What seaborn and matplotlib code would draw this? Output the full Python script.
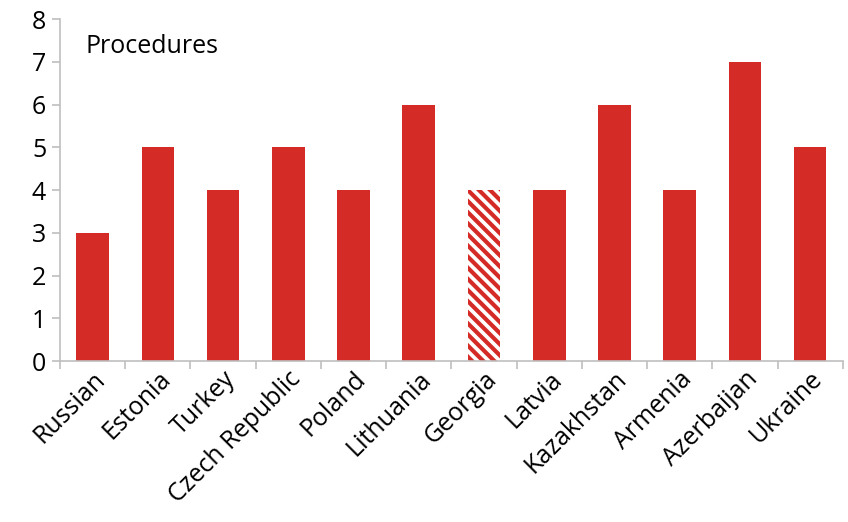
import matplotlib
matplotlib.use("Agg")
import matplotlib.pyplot as plt
import seaborn as sns
import pandas as pd
import numpy as np
from matplotlib.ticker import FixedLocator

countries = ["Russian", "Estonia", "Turkey", "Czech Republic", "Poland", "Lithuania",
             "Georgia", "Latvia", "Kazakhstan", "Armenia", "Azerbaijan", "Ukraine"]
procedures = [3, 5, 4, 5, 4, 6, 4, 4, 6, 4, 7, 5]
highlight = "Georgia"

red = "#D52B27"

sns.set_theme(style="white")
plt.rcParams['font.family'] = ['Open Sans', 'DejaVu Sans']
plt.rcParams['hatch.linewidth'] = 3.0
plt.rcParams['hatch.color'] = red

df = pd.DataFrame({"country": countries, "value": procedures})

fig = plt.figure(figsize=(8.48, 5.22), dpi=100)
ax = fig.add_axes([0.0708, 0.3084, 0.923, 0.6552])

sns.barplot(data=df, x="country", y="value", color=red, width=0.5, ax=ax,
            saturation=1, order=countries)

for patch, c in zip(ax.patches, countries):
    patch.set_edgecolor("none")
    if c == highlight:
        patch.set_facecolor("white")
        patch.set_hatch("\\\\\\")
        patch.set_edgecolor(red)
        patch.set_linewidth(0)

ax.set_xlim(-0.5, len(countries) - 0.5)
ax.set_ylim(0, 8)
ax.set_yticks(range(0, 9))
ax.set_xlabel("")
ax.set_ylabel("")

for s in ["top", "right"]:
    ax.spines[s].set_visible(False)
for s in ["left", "bottom"]:
    ax.spines[s].set_color("#BFBFBF")
    ax.spines[s].set_linewidth(1.2)

ax.tick_params(axis="y", which="major", left=True, length=6, color="#BFBFBF",
               width=1.2, labelsize=18, pad=4, labelcolor="black")
ax.tick_params(axis="x", which="major", bottom=False, length=0, labelsize=18, pad=4,
               labelcolor="black")
ax.xaxis.set_minor_locator(FixedLocator(np.arange(-0.5, len(countries), 1.0)))
ax.tick_params(axis="x", which="minor", bottom=True, length=6, color="#BFBFBF", width=1.2)

plt.setp(ax.get_xticklabels(), rotation=45, ha="right", rotation_mode="anchor")

ax.text(0.032, 0.92, "Procedures", transform=ax.transAxes, fontsize=18,
        ha="left", va="center", color="black")

fig.savefig("out.png", dpi=100)
